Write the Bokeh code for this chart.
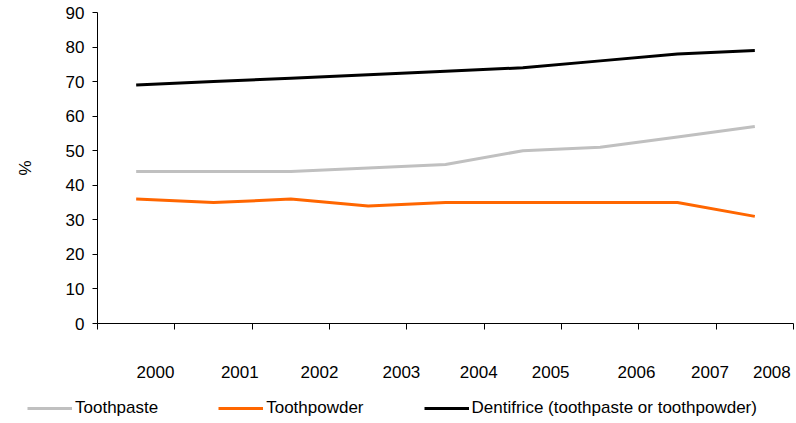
from bokeh.plotting import figure
from bokeh.layouts import column, row
from bokeh.models import Range1d, FixedTicker, Legend, LegendItem
from bokeh.embed import file_html
from bokeh.resources import INLINE

years = [2000, 2001, 2002, 2003, 2004, 2005, 2006, 2007, 2008]
toothpaste = [44, 44, 44, 45, 46, 50, 51, 54, 57]
toothpowder = [36, 35, 36, 34, 35, 35, 35, 35, 31]
dentifrice = [69, 70, 71, 72, 73, 74, 76, 78, 79]
series_names = ["Toothpaste", "Toothpowder", "Dentifrice (toothpaste or toothpowder)"]
y_ticks = list(range(0, 100, 10))

# layout: where each year label sits relative to its category centre
label_shift = [0.25, 0.34, 0.37, 0.43, 0.43, 0.36, 0.47, 0.42, 0.22]

FONT = "Liberation Sans"
FS = "17px"
idx = list(range(len(years)))
colors = ["#C0C0C0", "#FF6600", "#000000"]
series = [toothpaste, toothpowder, dentifrice]

p = figure(width=796, height=380, output_backend="svg", toolbar_location=None,
           x_range=Range1d(-0.5, len(years) - 0.5), y_range=Range1d(0, 90),
           min_border_left=97, min_border_right=3, min_border_top=12,
           min_border_bottom=57)
p.outline_line_color = None
p.xgrid.visible = False
p.ygrid.visible = False

for vals, c in zip(series, colors):
    p.line(idx, vals, line_color=c, line_width=3)

# x axis
label_pos = [i + s for i, s in zip(idx, label_shift)]
boundaries = [i - 0.5 for i in range(len(years) + 1)]
p.xaxis.ticker = FixedTicker(ticks=label_pos, minor_ticks=boundaries)
p.xaxis.major_label_overrides = {pos: str(y) for pos, y in zip(label_pos, years)}
p.xaxis.major_tick_out = 0
p.xaxis.major_tick_in = 0
p.xaxis.minor_tick_out = 6
p.xaxis.minor_tick_in = 0
p.xaxis.minor_tick_line_color = "black"
p.xaxis.axis_line_color = "black"
p.xaxis.major_label_standoff = 36
p.xaxis.major_label_text_font = FONT
p.xaxis.major_label_text_font_size = FS
p.xaxis.major_label_text_color = "black"

# y axis
p.yaxis.ticker = FixedTicker(ticks=y_ticks, minor_ticks=[])
p.yaxis.major_tick_out = 5
p.yaxis.major_tick_in = 0
p.yaxis.major_tick_line_color = "black"
p.yaxis.axis_line_color = "black"
p.yaxis.major_label_standoff = 8
p.yaxis.major_label_text_font = FONT
p.yaxis.major_label_text_font_size = FS
p.yaxis.major_label_text_color = "black"
p.yaxis.axis_label = "%"
p.yaxis.axis_label_text_font = FONT
p.yaxis.axis_label_text_font_size = FS
p.yaxis.axis_label_text_font_style = "normal"
p.yaxis.axis_label_text_color = "black"
p.yaxis.axis_label_standoff = 28

# legend strip below the chart (its series lie outside its view; only the legend shows)
lf = figure(width=796, height=43, output_backend="svg", toolbar_location=None,
            x_range=Range1d(100, 101), y_range=Range1d(0, 1),
            x_axis_location=None, y_axis_location=None,
            min_border_left=0, min_border_right=0, min_border_top=0, min_border_bottom=0)
lf.grid.visible = False
lf.outline_line_color = None
leg_renderers = [lf.line(idx, vals, line_color=c, line_width=3) for vals, c in zip(series, colors)]

legend = Legend(items=[LegendItem(label=n, renderers=[r]) for n, r in zip(series_names, leg_renderers)],
                orientation="horizontal", location=(27, 5),
                glyph_width=45, glyph_height=10, label_standoff=3, spacing=60,
                padding=0, margin=0, border_line_color=None, background_fill_alpha=0,
                label_text_font=FONT, label_text_font_size=FS, label_text_color="black")
lf.add_layout(legend, "center")

layout = column(p, row(lf, spacing=0), spacing=0)
open("out.html", "w").write(file_html(layout, INLINE))
